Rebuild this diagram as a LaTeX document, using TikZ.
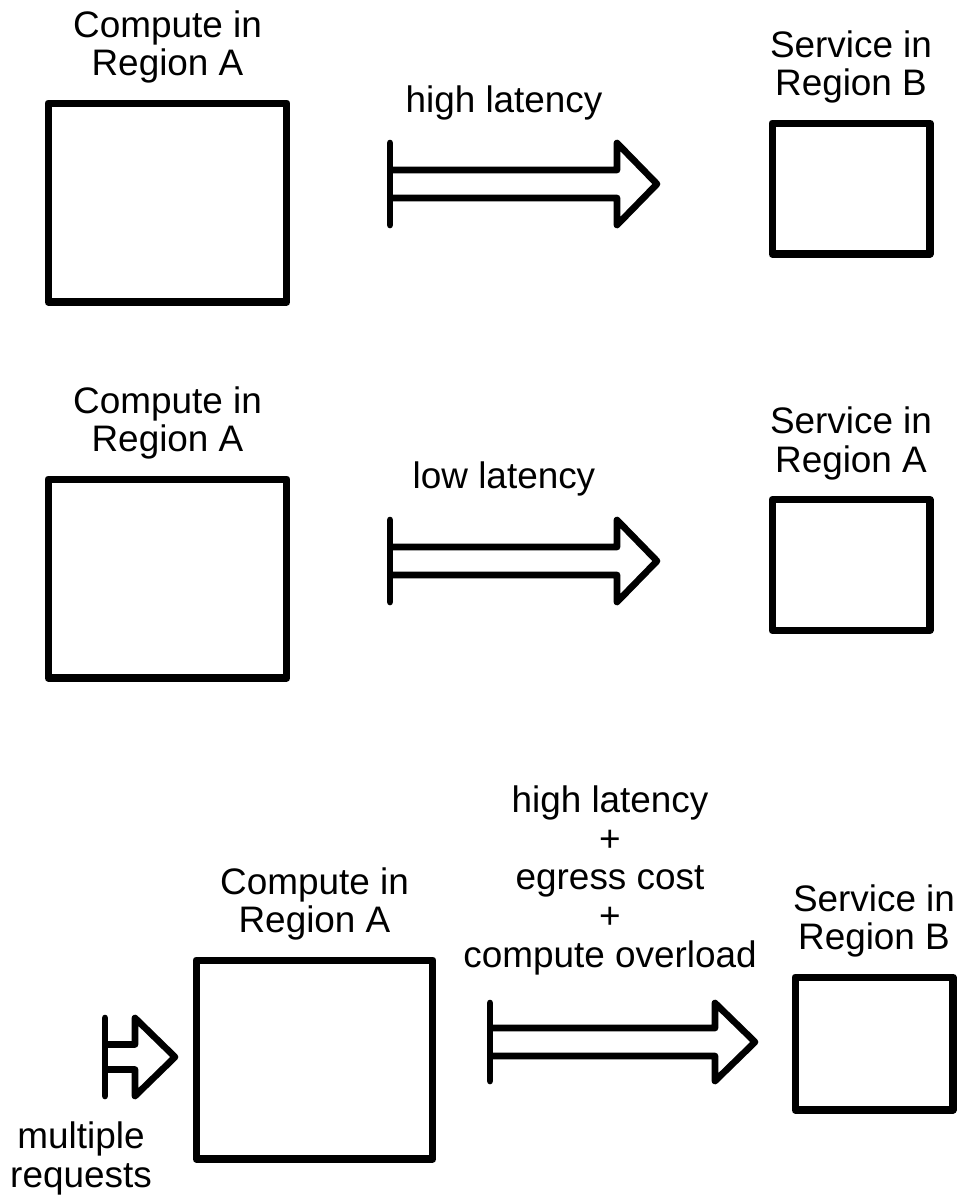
\documentclass[tikz,border=0pt]{standalone}
\usepackage{fontspec}
\setmainfont{Liberation Sans}
\usetikzlibrary{positioning}

\begin{document}
\begin{tikzpicture}[
    x=0.02cm, y=-0.02cm,
    box/.style={draw, line width=4pt, line join=round, inner sep=0pt},
    lbl/.style={font=\fontsize{21}{22}\selectfont, align=center, inner sep=0pt},
    pics/pipe/.style n args={3}{code={
      \draw[line width=3.8pt, line cap=round] (0,-#2) -- (0,#2);
      \draw[line width=3.8pt, line join=round]
        (0,-#3) -- ({#1-40},-#3) -- ({#1-40},-#2) -- (#1,0)
        -- ({#1-40},#2) -- ({#1-40},#3) -- (0,#3);
    }},
  ]
  \useasboundingbox (0,0) rectangle (963,1198);

  % same region, far service
  \node[box, minimum width=4.78cm, minimum height=3.98cm] (a1) at (167.5,202.5) {};
  \node[box, minimum width=3.16cm, minimum height=2.62cm] (b1) at (851,188.5) {};
  \node[lbl, above=9pt of a1] (a1lbl) {Compute in\\Region A};
  \node[lbl, above=9pt of b1] (b1lbl) {Service in\\Region B};
  \pic at (390,184) {pipe={267}{41}{14}};
  \node[lbl, anchor=base] (lat1) at (504,112) {high latency};

  % same region, near service
  \node[box, minimum width=4.78cm, minimum height=3.98cm] (a2) at (167.5,578.5) {};
  \node[box, minimum width=3.16cm, minimum height=2.62cm] (b2) at (851,565) {};
  \node[lbl, above=9pt of a2] (a2lbl) {Compute in\\Region A};
  \node[lbl, above=9pt of b2] (b2lbl) {Service in\\Region A};
  \pic at (390,561) {pipe={267}{41}{14}};
  \node[lbl, anchor=base] (lat2) at (504,488) {low latency};

  % many requests
  \node[box, minimum width=4.74cm, minimum height=3.98cm] (a3) at (314.5,1059.5) {};
  \node[box, minimum width=3.16cm, minimum height=2.66cm] (b3) at (874,1043.5) {};
  \node[lbl, above=9pt of a3] (a3lbl) {Compute in\\Region A};
  \node[lbl, above=9pt of b3] (b3lbl) {Service in\\Region B};
  \pic at (105,1057) {pipe={70}{39}{12.5}};
  \node[lbl, anchor=south] (req) at (81,1195) {multiple\\requests};
  \pic at (490,1042) {pipe={265}{39}{14}};
  \node[lbl, anchor=south] (lat3) at (610,975) {high latency\\+\\egress cost\\+\\compute overload};
\end{tikzpicture}
\end{document}
